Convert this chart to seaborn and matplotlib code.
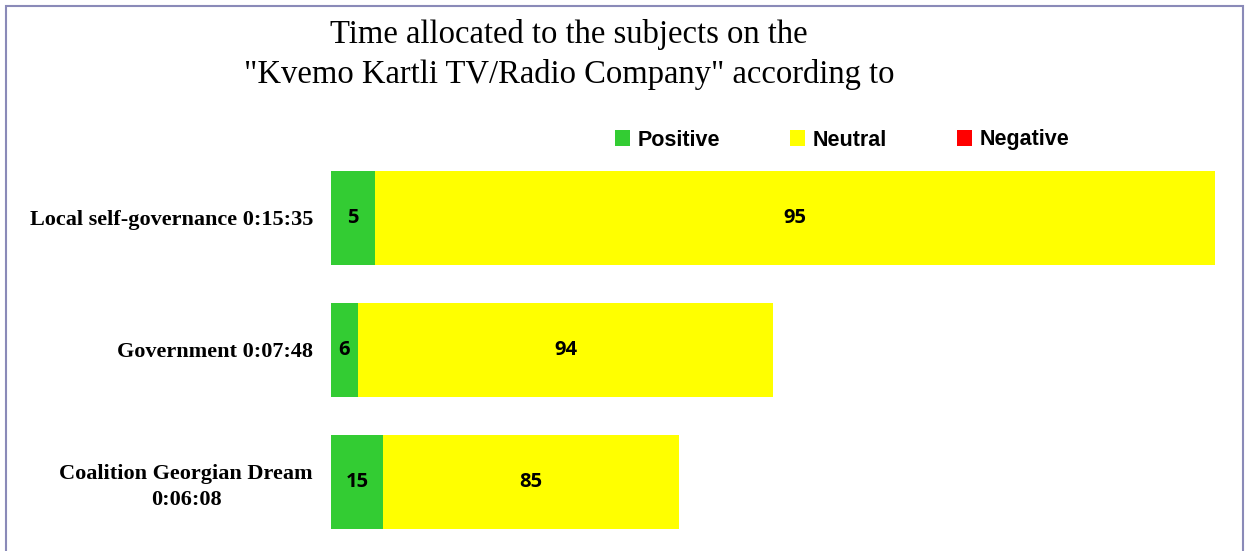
import numpy as np
import pandas as pd
import matplotlib.pyplot as plt
import seaborn as sns
from matplotlib.patches import Rectangle, Patch

# data
subjects = ["Local self-governance 0:15:35", "Government 0:07:48",
            "Coalition Georgian Dream\n0:06:08"]
durations = ["0:15:35", "0:07:48", "0:06:08"]
positive = [5, 6, 15]
neutral = [95, 94, 85]
negative = [0, 0, 0]

colors = {"Positive": "#33CC33", "Neutral": "#FFFF00", "Negative": "#FF0000"}


def to_seconds(t):
    h, m, s = map(int, t.split(":"))
    return h * 3600 + m * 60 + s


total = np.array([to_seconds(t) for t in durations], dtype=float)
pos_s = total * np.array(positive) / 100
neu_s = total * np.array(neutral) / 100
neg_s = total * np.array(negative) / 100

df = pd.DataFrame({"subject": subjects,
                   "pos": pos_s,
                   "pos_neu": pos_s + neu_s,
                   "all": pos_s + neu_s + neg_s})

sns.set_style("white")
plt.rcParams["text.color"] = "black"
plt.rcParams["ytick.color"] = "black"
plt.rcParams["ytick.labelcolor"] = "black"

fig = plt.figure(figsize=(12.46, 5.51), dpi=100)
W, H = 1246, 551
ax = fig.add_axes([331 / W, 0, (1215 - 331) / W, (551 - 152) / H])

# stacked bars drawn back to front from cumulative ends
for col, name in [("all", "Negative"), ("pos_neu", "Neutral"), ("pos", "Positive")]:
    sns.barplot(data=df, y="subject", x=col, orient="h", color=colors[name],
                width=0.71, saturation=1, ax=ax, linewidth=0)

ax.set_xlim(0, total.max())
ax.set_ylim(2.523, -0.5)
ax.set_xlabel("")
ax.set_ylabel("")
ax.set_xticks([])
sns.despine(ax=ax, left=True, bottom=True)
ax.tick_params(axis="y", length=0, pad=13, labelcolor="black")
for lbl in ax.get_yticklabels():
    lbl.set_fontfamily("Liberation Serif")
    lbl.set_fontweight("bold")
    lbl.set_fontsize(16)
    lbl.set_multialignment("center")
    lbl.set_linespacing(1.4)

# value labels in the middle of each segment
for i in range(len(subjects)):
    starts = [0, pos_s[i], pos_s[i] + neu_s[i]]
    widths = [pos_s[i], neu_s[i], neg_s[i]]
    vals = [positive[i], neutral[i], negative[i]]
    for st, w, v in zip(starts, widths, vals):
        if v > 0:
            ax.text(st + w / 2, i, str(v), ha="center", va="center",
                    fontsize=14.5, fontweight="bold", family="Open Sans",
                    color="black")

handles = [Patch(facecolor=colors[k], edgecolor="none", label=k) for k in colors]
fig.legend(handles=handles, loc="center", bbox_to_anchor=(842 / W, 1 - 140 / H),
           ncol=3, frameon=False, handlelength=0.7, handleheight=0.7,
           handletextpad=0.35, columnspacing=3.25,
           prop={"family": "Liberation Sans", "weight": "bold", "size": 15.5})

fig.text(569 / W, 1 - 35 / H, "Time allocated to the subjects on the",
         ha="center", va="center", fontsize=23.5, family="Liberation Serif")
fig.text(569 / W, 1 - 75 / H, "\"Kvemo Kartli TV/Radio Company\" according to",
         ha="center", va="center", fontsize=23.5, family="Liberation Serif")

# chart frame (bottom edge falls outside the picture)
fig.patches.append(Rectangle((6 / W, -0.1), (1243 - 6) / W, 1.1 - 6 / H,
                             transform=fig.transFigure, fill=False,
                             edgecolor="#8A8AB8", linewidth=1.5))

fig.savefig("out.png", dpi=100)
